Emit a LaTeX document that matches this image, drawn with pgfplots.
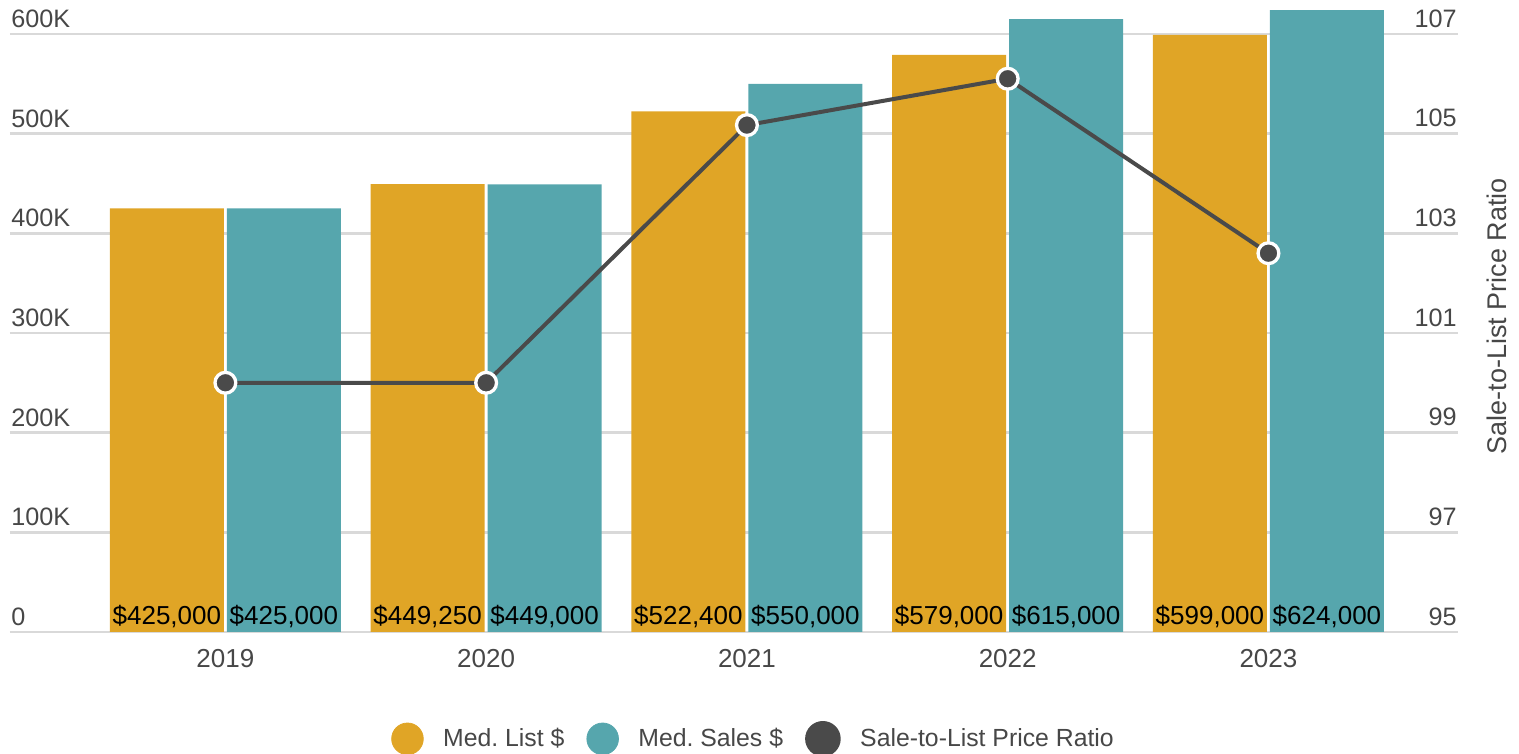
\documentclass[border=0pt]{standalone}
\usepackage{pgfplots}
\pgfplotsset{compat=1.18}
\usepackage{fontspec}
\setmainfont{Liberation Sans}
\definecolor{gold}{HTML}{E0A526}
\definecolor{teal}{HTML}{56A6AD}
\definecolor{dark}{HTML}{4A4A4A}
\definecolor{txt}{HTML}{474747}
\definecolor{gridc}{HTML}{D9D9D9}
\begin{document}
\begin{tikzpicture}
\useasboundingbox (0,0) rectangle (759.5pt,377pt);
\begin{axis}[
  at={(5pt,61pt)}, anchor=south west,
  scale only axis, width=724pt, height=316pt,
  xmin=-0.826, xmax=4.727, ymin=0, ymax=634.1,
  axis line style={draw=none}, major tick length=0pt,
  ymajorgrids, grid style={line width=1.35pt, gridc},
  ytick={0,100,200,300,400,500,600},
  yticklabels={0,100K,200K,300K,400K,500K,600K},
  yticklabel style={anchor=south west, inner sep=0pt, xshift=0.5pt, yshift=3pt, text=txt, font=\fontsize{12.6}{15}\selectfont},
  xtick={0,1,2,3,4},
  xticklabels={2019,2020,2021,2022,2023},
  xticklabel style={anchor=north, inner sep=0pt, yshift=-8.5pt, text=txt, font=\fontsize{13}{15}\selectfont},
]
\addplot[ybar, bar width=0.4372, bar shift=-0.2244, fill=gold, draw=none] coordinates {(0,425) (1,449.25) (2,522.4) (3,579) (4,599)};
\addplot[ybar, bar width=0.4372, bar shift=0.2244, fill=teal, draw=none] coordinates {(0,425) (1,449) (2,550) (3,615) (4,624)};
\addplot[draw=none, mark=none, nodes near coords, point meta=explicit symbolic,
  nodes near coords style={anchor=base, inner sep=0pt, yshift=3.5pt, text=black, font=\fontsize{13}{15}\selectfont}]
  coordinates {(-0.2244,0) [\$425,000] (0.2244,0) [\$425,000]
  (0.7756,0) [\$449,250] (1.2244,0) [\$449,000]
  (1.7756,0) [\$522,400] (2.2244,0) [\$550,000]
  (2.7756,0) [\$579,000] (3.2244,0) [\$615,000]
  (3.7756,0) [\$599,000] (4.2244,0) [\$624,000]};
\end{axis}
\begin{axis}[
  at={(5pt,61pt)}, anchor=south west,
  scale only axis, width=724pt, height=316pt,
  xmin=-0.826, xmax=4.727, ymin=95, ymax=107.68,
  axis y line*=right, hide x axis,
  axis line style={draw=none}, major tick length=0pt,
  ytick={95,97,99,101,103,105,107},
  yticklabels={95,97,99,101,103,105,107},
  yticklabel style={anchor=south east, inner sep=0pt, xshift=-0.5pt, yshift=3pt, text=txt, font=\fontsize{12.6}{15}\selectfont},
  ylabel={Sale-to-List Price Ratio},
  ylabel style={at={(rel axis cs:1.02693,0.5)}, anchor=center, inner sep=0pt, text=txt, font=\fontsize{13.5}{16}\selectfont},
  legend style={draw=none, fill=none, at={(0.5128,-0.169)}, anchor=center,
    font=\fontsize{12.4}{14}\selectfont, text=txt, nodes={inner sep=0pt},
    /tikz/every odd column/.append style={column sep=9.75pt},
    /tikz/every even column/.append style={column sep=11pt}},
  legend columns=-1,
]
\addlegendimage{legend image code/.code={\fill[gold] (0pt,0pt) circle (7.9pt);}}
\addlegendentry{Med.\ List \$}
\addlegendimage{legend image code/.code={\fill[teal] (0pt,0pt) circle (7.9pt);}}
\addlegendentry{Med.\ Sales \$}
\addplot[color=dark, line width=2pt, mark=*, mark size=5.2pt,
  mark options={fill=dark, draw=white, line width=1.65pt},
  legend image code/.code={\fill[dark] (0pt,0pt) circle (7.9pt);}]
  coordinates {(0,100) (1,100) (2,105.17) (3,106.1) (4,102.6)};
\addlegendentry{Sale-to-List Price Ratio}
\end{axis}
\end{tikzpicture}
\end{document}
